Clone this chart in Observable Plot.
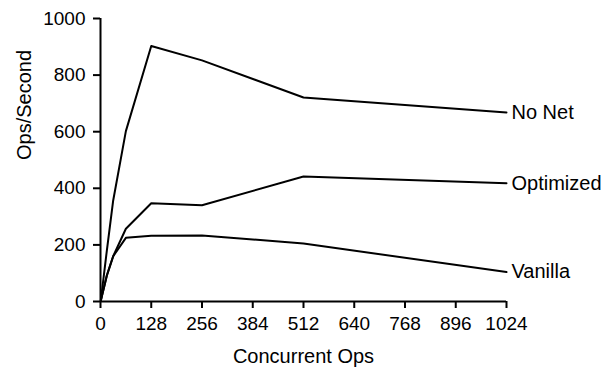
<!DOCTYPE html>
<html>
<head>
<meta charset="utf-8">
<script src="https://cdn.jsdelivr.net/npm/d3@7"></script>
<script src="https://cdn.jsdelivr.net/npm/@observablehq/plot@0.6"></script>
<style>
  html, body { margin: 0; padding: 0; background: #fff; }
  svg { display: block; }
</style>
</head>
<body>
<div id="chart"></div>
<script>
const concurrency = [1, 16, 32, 64, 128, 256, 512, 1024];
const vanilla   = [4, 92, 160, 225, 232, 233, 205, 104];
const optimized = [4, 92, 160, 257, 347, 340, 442, 418];
const noNet     = [6, 180, 357, 602, 903, 852, 721, 668];
const seriesNames = ["No Net", "Optimized", "Vanilla"];
const seriesValues = [noNet, optimized, vanilla];
const xTicks = [0, 128, 256, 384, 512, 640, 768, 896, 1024];
const yTicks = [0, 200, 400, 600, 800, 1000];
const xLabel = "Concurrent Ops";
const yLabel = "Ops/Second";

const data = seriesNames.flatMap((name, i) =>
  concurrency.map((c, j) => ({series: name, x: c, y: seriesValues[i][j]}))
);
const ends = data.filter(d => d.x === concurrency[concurrency.length - 1]);

const font = "'Liberation Sans', Arial, Helvetica, sans-serif";

const chart = Plot.plot({
  width: 608,
  height: 369,
  marginLeft: 100,
  marginRight: 102,
  marginTop: 18,
  marginBottom: 68,
  style: {fontFamily: font, fontSize: "19px", color: "#000", background: "#fff"},
  x: {domain: [0, 1024], ticks: xTicks, tickFormat: d3.format("d"), tickSize: 7, tickPadding: 8, label: null},
  y: {domain: [0, 1000], ticks: yTicks, tickFormat: d3.format("d"), tickSize: 7, tickPadding: 8, label: null},
  marks: [
    Plot.ruleX([0], {stroke: "#000", strokeWidth: 2}),
    Plot.ruleY([0], {stroke: "#000", strokeWidth: 2}),
    Plot.line(data, {x: "x", y: "y", z: "series", stroke: "#000", strokeWidth: 2}),
    Plot.text(ends, {x: "x", y: "y", text: "series", textAnchor: "start", dx: 5, fill: "#000", fontSize: 20}),
    Plot.text([xLabel], {text: d => d, frameAnchor: "bottom", lineAnchor: "bottom", dy: 61, fill: "#000", fontSize: 20}),
    Plot.text([yLabel], {text: d => d, frameAnchor: "left", rotate: -90, lineAnchor: "middle", dx: -76, fill: "#000", fontSize: 20})
  ]
});
chart.querySelectorAll("g[aria-label$='axis'] path, g[aria-label$='tick'] path").forEach(p => p.setAttribute("stroke-width", 2));
document.getElementById("chart").appendChild(chart);
</script>
</body>
</html>
